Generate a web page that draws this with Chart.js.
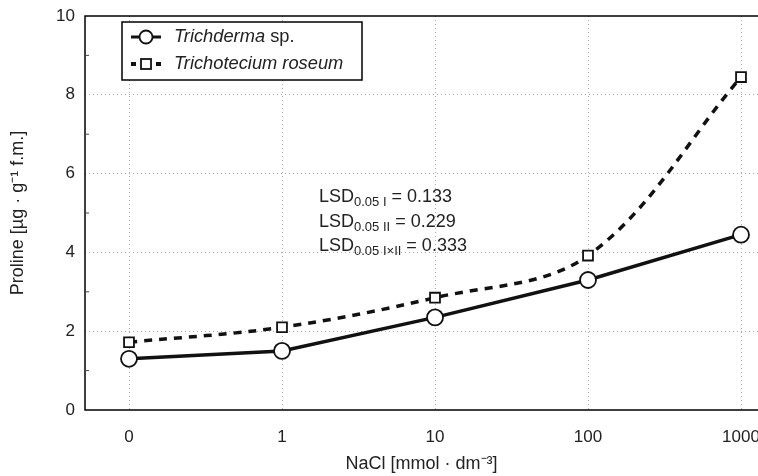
<!DOCTYPE html>
<html>
<head>
<meta charset="utf-8">
<script src="https://cdn.jsdelivr.net/npm/chart.js@4/dist/chart.umd.min.js"></script>
<style>
  body { margin: 0; background: #fff; }
  canvas { display: block; }
</style>
</head>
<body>
<canvas id="prolineChart" width="758" height="476"></canvas>
<script>
// values
const categories = ["0", "1", "10", "100", "1000"];
const trichoderma = [1.3, 1.5, 2.35, 3.3, 4.45];
const trichotecium = [1.72, 2.1, 2.85, 3.92, 8.45];
const seriesItalic = ["Trichderma", "Trichotecium roseum"];
const seriesSuffix = [" sp.", ""];
const lsdSubs = ["0.05 I", "0.05 II", "0.05 I\u00d7II"];
const lsdValues = ["0.133", "0.229", "0.333"];

const FONT = "'Liberation Sans', Arial, sans-serif";

const toPoints = (vals) => vals.map((v, i) => ({ x: i, y: v }));

const framePlugin = {
    id: "frame",
    afterDatasetsDraw(chart) {
        const { ctx, chartArea: a, scales } = chart;
        ctx.save();
        ctx.strokeStyle = "#000";
        ctx.lineWidth = 1.5;
        ctx.beginPath();
        ctx.moveTo(a.right + 2, a.top);
        ctx.lineTo(a.left, a.top);
        ctx.lineTo(a.left, a.bottom);
        ctx.lineTo(a.right + 2, a.bottom);
        ctx.stroke();

        // minor ticks on the y axis
        ctx.lineWidth = 1;
        ctx.strokeStyle = "#444";
        for (let v = 1; v < 10; v += 2) {
            const y = scales.y.getPixelForValue(v);
            ctx.beginPath();
            ctx.moveTo(a.left, y);
            ctx.lineTo(a.left + 4, y);
            ctx.stroke();
        }

        // legend
        const bx = 122, by = 22, bw = 240, bh = 58;
        ctx.fillStyle = "#fff";
        ctx.fillRect(bx, by, bw, bh);
        ctx.strokeStyle = "#000";
        ctx.lineWidth = 1.5;
        ctx.strokeRect(bx, by, bw, bh);

        const rows = [37, 64];
        rows.forEach((ry, i) => {
            ctx.lineWidth = 3;
            ctx.strokeStyle = "#111";
            if (i === 0) {
                ctx.setLineDash([]);
                ctx.beginPath();
                ctx.moveTo(131, ry);
                ctx.lineTo(161, ry);
                ctx.stroke();
                ctx.beginPath();
                ctx.arc(146, ry, 6.5, 0, Math.PI * 2);
                ctx.fillStyle = "#fff";
                ctx.fill();
                ctx.lineWidth = 1.8;
                ctx.stroke();
            } else {
                ctx.fillStyle = "#111";
                ctx.fillRect(131, ry - 2, 5, 4);
                ctx.fillRect(156, ry - 2, 5, 4);
                ctx.fillStyle = "#fff";
                ctx.fillRect(141, ry - 5, 10, 10);
                ctx.lineWidth = 1.8;
                ctx.strokeRect(141, ry - 5, 10, 10);
            }
            ctx.fillStyle = "#222";
            ctx.textBaseline = "middle";
            ctx.textAlign = "left";
            ctx.font = "italic 18.3px " + FONT;
            ctx.fillText(seriesItalic[i], 174, ry);
            const w = ctx.measureText(seriesItalic[i]).width;
            ctx.font = "18.3px " + FONT;
            ctx.fillText(seriesSuffix[i], 174 + w, ry);
        });

        // LSD annotation
        ctx.fillStyle = "#222";
        ctx.textBaseline = "alphabetic";
        lsdSubs.forEach((sub, i) => {
            const y = 202 + i * 24.5;
            let x = 319;
            ctx.font = "18px " + FONT;
            ctx.fillText("LSD", x, y);
            x += ctx.measureText("LSD").width;
            ctx.font = "13px " + FONT;
            ctx.fillText(sub, x, y + 4);
            x += ctx.measureText(sub).width;
            ctx.font = "18px " + FONT;
            ctx.fillText(" = " + lsdValues[i], x, y);
        });
        ctx.restore();
    }
};

new Chart(document.getElementById("prolineChart"), {
    type: "line",
    data: {
        datasets: [
            {
                label: seriesItalic[0] + seriesSuffix[0],
                data: toPoints(trichoderma),
                borderColor: "#111",
                borderWidth: 3.5,
                tension: 0,
                pointStyle: "circle",
                pointRadius: 8,
                pointBorderWidth: 1.8,
                pointBackgroundColor: "#fff",
                pointBorderColor: "#111",
            },
            {
                label: seriesItalic[1] + seriesSuffix[1],
                data: toPoints(trichotecium),
                borderColor: "#111",
                borderWidth: 3.5,
                borderDash: [8, 7],
                tension: 0.35,
                pointStyle: "rect",
                pointRadius: 7,
                pointBorderWidth: 1.8,
                pointBackgroundColor: "#fff",
                pointBorderColor: "#111",
            },
        ],
    },
    options: {
        responsive: false,
        animation: false,
        layout: { autoPadding: false, padding: { top: 16, right: 0, left: 0, bottom: 0 } },
        plugins: { legend: { display: false }, tooltip: { enabled: false } },
        scales: {
            x: {
                type: "linear",
                min: -0.2876,
                max: 4.111,
                afterBuildTicks: (s) => {
                    s.ticks = categories.map((c, i) => ({ value: i }));
                },
                afterFit: (s) => {
                    s.height = 66;
                    s.paddingLeft = 0;
                    s.paddingRight = 0;
                },
                grid: { color: "#aaa", lineWidth: 1, drawTicks: false },
                border: { display: false, dash: [1, 3] },
                ticks: {
                    padding: 17,
                    color: "#222",
                    font: { family: FONT, size: 17 },
                    callback: (v) => categories[v],
                },
                title: {
                    display: true,
                    text: "NaCl [mmol \u00b7 dm\u207b\u00b3]",
                    color: "#222",
                    font: { family: FONT, size: 18 },
                    padding: { top: 0, bottom: 1 },
                },
            },
            y: {
                min: 0,
                max: 10,
                afterFit: (s) => {
                    s.width = 85;
                    s.paddingTop = 0;
                    s.paddingBottom = 0;
                },
                grid: {
                    color: (c) => (c.tick && c.tick.value % 2 === 0 && c.tick.value > 0 && c.tick.value < 10 ? "#aaa" : "transparent"),
                    lineWidth: 1,
                    drawTicks: false,
                },
                border: { display: false, dash: [1, 3] },
                ticks: {
                    stepSize: 1,
                    padding: 10,
                    color: "#222",
                    font: { family: FONT, size: 17 },
                    callback: (v) => (v % 2 === 0 ? String(v) : ""),
                },
                title: {
                    display: true,
                    text: "Proline [\u00b5g \u00b7 g\u207b\u00b9 f.m.]",
                    color: "#222",
                    font: { family: FONT, size: 18 },
                    padding: { top: 7, bottom: 0 },
                },
            },
        },
    },
    plugins: [framePlugin],
});
</script>
</body>
</html>
